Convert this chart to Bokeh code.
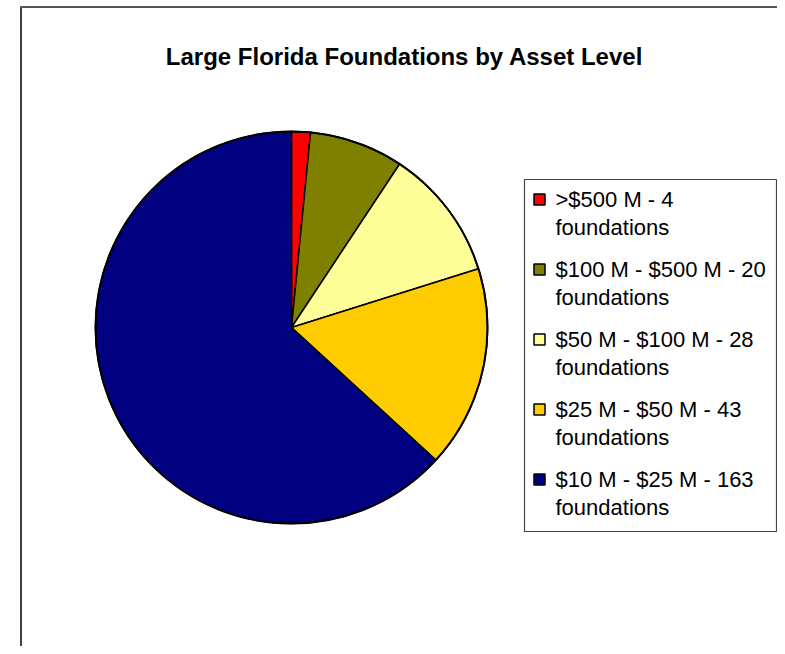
import numpy as np
from bokeh.plotting import figure
from bokeh.models import ColumnDataSource, Range1d
from bokeh.core.properties import value
from bokeh.embed import file_html
from bokeh.resources import INLINE

# ---- data ----
title_text = "Large Florida Foundations by Asset Level"
asset_ranges = [">$500 M", "$100 M - $500 M", "$50 M - $100 M", "$25 M - $50 M", "$10 M - $25 M"]
counts = [4, 20, 28, 43, 163]
colors = ["#FF0000", "#808000", "#FFFF99", "#FFCC00", "#000080"]
unit_word = "foundations"

# ---- layout (picture pixels -> data coords) ----
W, H = 777, 646
def sx(x):
    return x
def sy(y):
    return H - y

p = figure(width=W, height=H, x_range=Range1d(0, W), y_range=Range1d(0, H),
           output_backend="svg", toolbar_location=None, min_border=0,
           x_axis_type=None, y_axis_type=None, outline_line_color=None,
           background_fill_color="white", border_fill_color="white")
p.grid.visible = False

FONT = value("Liberation Sans")

# chart area border (left and top edges visible)
p.segment(x0=[sx(20.5)], y0=[sy(700)], x1=[sx(20.5)], y1=[sy(6)], line_color="black", line_width=1.5)
p.segment(x0=[sx(20)], y0=[sy(6.5)], x1=[sx(800)], y1=[sy(6.5)], line_color="#555555", line_width=2)

# title
p.text(x=[sx(404)], y=[sy(56)], text=[title_text], text_font=FONT, text_font_style="bold",
       text_font_size=value("24px"), text_align="center", text_baseline="alphabetic",
       text_color="black")

# pie: start at 12 o'clock, go clockwise
vals = np.array(counts, dtype=float)
frac = vals / vals.sum()
cum_end = np.cumsum(frac) * 2 * np.pi
cum_start = cum_end - frac * 2 * np.pi
pie = ColumnDataSource(dict(
    start=np.pi / 2 - cum_end,
    end=np.pi / 2 - cum_start,
    color=colors,
))
cx, cy, R = sx(291), sy(327), 196
p.wedge(x=cx, y=cy, radius=R, start_angle="start", end_angle="end", source=pie,
        fill_color="color", line_color="black", line_width=1.5)
p.circle(x=[cx], y=[cy], radius=R, fill_color=None, line_color="black", line_width=2)

# legend box
p.quad(left=[sx(524)], right=[sx(776)], top=[sy(179)], bottom=[sy(531)],
       fill_color="white", line_color="#444444", line_width=1.2)

n = len(counts)
idx = np.arange(n)
leg = ColumnDataSource(dict(
    sw_x=[sx(539)] * n,
    sw_y=[sy(199 + 70 * i) for i in idx],
    t_x=[sx(555)] * n,
    t1_y=[sy(199 + 70 * i) for i in idx],
    t2_y=[sy(227 + 70 * i) for i in idx],
    line1=[f"{r} - {c}" for r, c in zip(asset_ranges, counts)],
    line2=[unit_word] * n,
    color=colors,
))
p.rect(x="sw_x", y="sw_y", width=11, height=11, source=leg, fill_color="color",
       line_color="black", line_width=1.5)
p.text(x="t_x", y="t1_y", text="line1", source=leg, text_font=FONT,
       text_font_size=value("22px"), text_baseline="alphabetic", text_color="black")
p.text(x="t_x", y="t2_y", text="line2", source=leg, text_font=FONT,
       text_font_size=value("22px"), text_baseline="alphabetic", text_color="black")

open("out.html", "w").write(file_html(p, INLINE))
